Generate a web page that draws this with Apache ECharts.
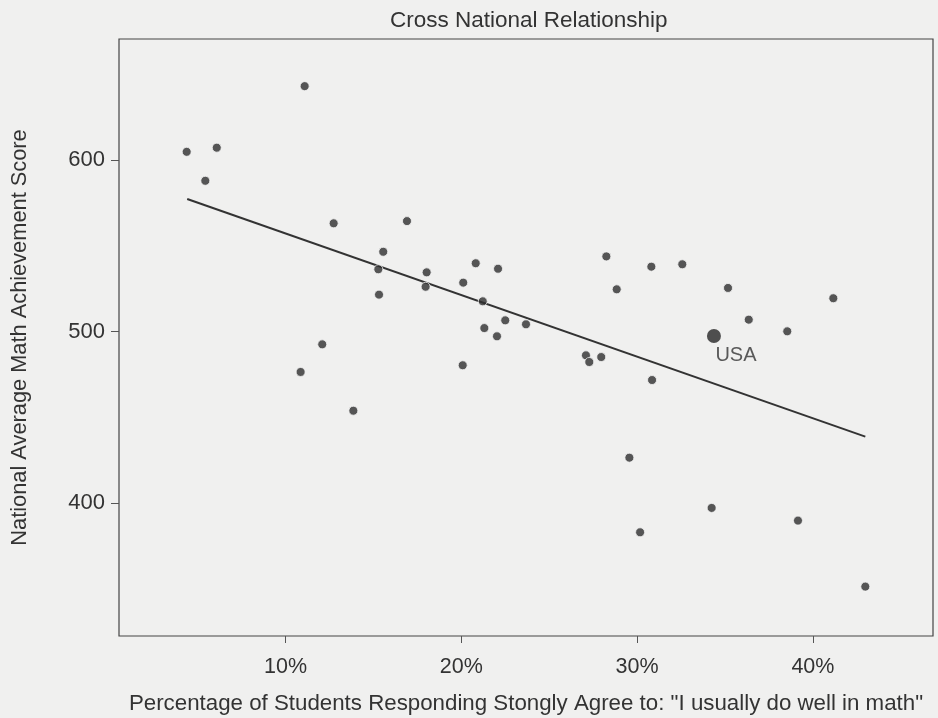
<!DOCTYPE html>
<html>
<head>
<meta charset="utf-8">
<script src="https://cdn.jsdelivr.net/npm/echarts@6/dist/echarts.min.js"></script>
<style>
  html, body { margin: 0; padding: 0; background: #f0f0ef; }
  #chart { width: 938px; height: 718px; }
</style>
</head>
<body>
<div id="chart"></div>
<script>
// Share of students answering "strongly agree" (%) and national math score
const pctAgree = [4.38, 5.44, 6.09, 11.09, 10.86, 12.09, 12.74, 13.86, 15.28, 15.32,
  15.56, 16.91, 17.97, 18.03, 20.08, 20.11, 20.82, 21.22, 21.31, 22.03,
  22.09, 22.50, 23.68, 27.09, 27.28, 27.96, 28.25, 28.84, 29.56, 30.17,
  30.81, 30.85, 32.57, 34.24, 35.17, 36.35, 38.54, 39.15, 41.16, 42.98];
const mathScore = [604.8, 587.9, 607.2, 643.1, 476.4, 492.5, 563.1, 453.8, 536.3, 521.5,
  546.5, 564.4, 526.1, 534.5, 480.3, 528.5, 539.8, 517.6, 502.0, 497.2,
  536.6, 506.5, 504.2, 486.1, 482.2, 485.1, 543.8, 524.6, 426.4, 382.9,
  537.8, 471.7, 539.2, 397.1, 525.4, 506.9, 500.1, 389.7, 519.4, 351.2];

// Highlighted country
const usaName = 'USA';
const usaPct = 34.37;
const usaScore = 497.4;

// Fitted trend line end points
const fitPct = [4.41, 42.98];
const fitScore = [577.3, 438.7];

// Axis ticks
const xTicks = [10, 20, 30, 40];
const yTicks = [400, 500, 600];

const ink = '#333333';
const fontFamily = '"Liberation Sans", Arial, sans-serif';

const chart = echarts.init(document.getElementById('chart'));
chart.setOption({
  backgroundColor: '#f0f0ef',
  animation: false,
  title: {
    text: 'Cross National Relationship',
    left: 385,
    top: 4,
    textStyle: { fontFamily, fontSize: 22.5, fontWeight: 'normal', color: ink }
  },
  grid: {
    left: 119, right: 5, top: 39, bottom: 82,
    outerBoundsMode: 'none',
    containLabel: false,
    show: true, borderColor: '#444', borderWidth: 1.2, backgroundColor: 'transparent'
  },
  xAxis: {
    type: 'value',
    min: 0.53, max: 46.83,
    name: 'Percentage of Students Responding Stongly Agree to: "I usually do well in math"',
    nameLocation: 'middle',
    nameGap: 57,
    nameTextStyle: { fontFamily, fontSize: 22.3, color: ink },
    axisLine: { show: false },
    axisTick: { show: true, length: 7, customValues: xTicks, lineStyle: { color: '#555' } },
    axisLabel: {
      customValues: xTicks, margin: 20,
      formatter: v => v + '%',
      fontFamily, fontSize: 21.5, color: ink
    },
    splitLine: { show: false }
  },
  yAxis: {
    type: 'value',
    min: 322.4, max: 670.6,
    name: 'National Average Math Achievement Score',
    nameLocation: 'middle',
    nameGap: 88,
    nameTextStyle: { fontFamily, fontSize: 21.8, color: ink },
    axisLine: { show: false },
    axisTick: { show: true, length: 8, customValues: yTicks, lineStyle: { color: '#555' } },
    axisLabel: { customValues: yTicks, margin: 14, fontFamily, fontSize: 22, color: ink },
    splitLine: { show: false }
  },
  series: [
    {
      type: 'line',
      data: fitPct.map((p, i) => [p, fitScore[i]]),
      symbol: 'none',
      lineStyle: { color: ink, width: 2 },
      z: 2
    },
    {
      type: 'scatter',
      data: pctAgree.map((p, i) => [p, mathScore[i]]),
      symbolSize: 9,
      itemStyle: { color: '#2e2e2e', borderColor: '#f5f5f5', borderWidth: 1 },
      z: 3
    },
    {
      type: 'scatter',
      data: [[usaPct, usaScore]],
      symbolSize: 14,
      itemStyle: { color: '#262626' },
      label: {
        show: true, position: 'bottom', distance: 3, offset: [22, 0],
        formatter: usaName,
        fontFamily, fontSize: 20, color: ink
      },
      z: 4
    }
  ]
});
</script>
</body>
</html>
